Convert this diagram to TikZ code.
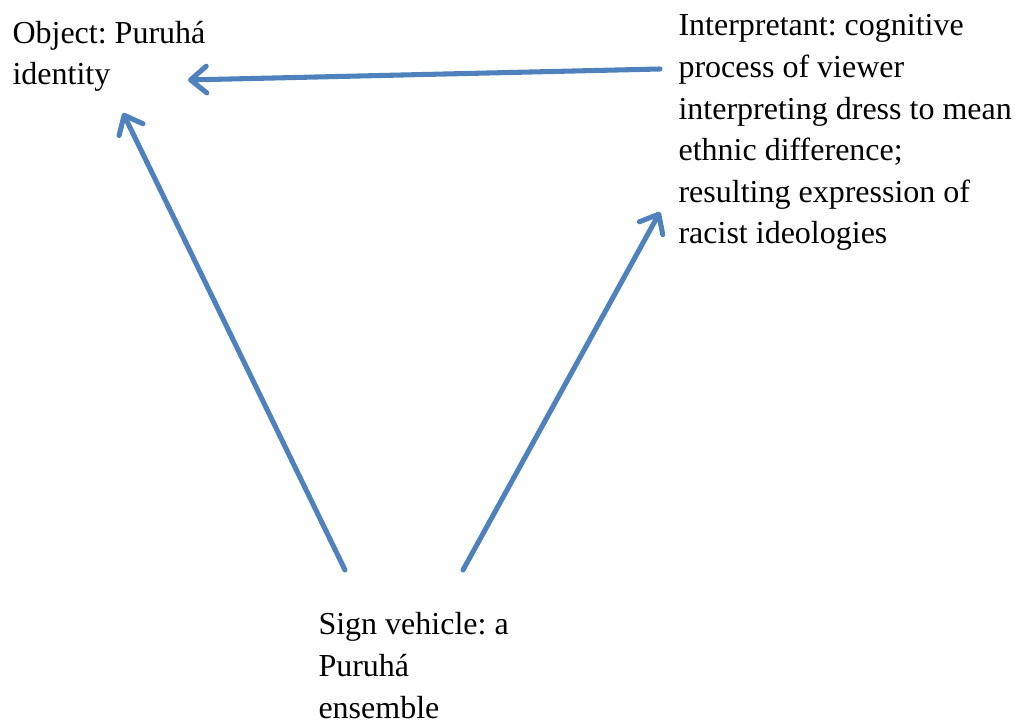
\documentclass[tikz,border=0pt]{standalone}
\usepackage{fontspec}
\setmainfont{Liberation Serif}
\usepackage{tikz}
\usetikzlibrary{arrows.meta}
\usetikzlibrary{calc}
\definecolor{signblue}{HTML}{4F81BD}
\frenchspacing

\begin{document}
\begin{tikzpicture}[x=0.375pt, y=-0.375pt,
    label/.style={anchor=base west, inner sep=0pt, align=left,
        font=\fontsize{12}{15.6}\selectfont},
    link/.style={signblue, line width=1.9pt, line cap=round,
        -{Straight Barb[length=6pt, width=10pt, round]}}]
\useasboundingbox (0,0) rectangle (1015,721);

% base anchor sits on the last line
\node[label] (object) at (12,85) {Object: Puruhá\\identity};
\node[label] (interp) at (678,244) {Interpretant: cognitive\\process of viewer\\interpreting dress to mean\\ethnic difference;\\resulting expression of\\racist ideologies};
\node[label] (sign) at (318,718) {Sign vehicle: a\\Puruhá\\ensemble};

% Arrows between the three corners
\draw[link] ($(interp.base west)+(-18,-175)$) -- ($(object.base west)+(176,-5)$);
\draw[link] ($(sign.base west)+(27,-148)$) -- ($(object.base west)+(111,28)$);
\draw[link] ($(sign.base west)+(145,-148)$) -- ($(interp.base west)+(-18,-32)$);
\end{tikzpicture}
\end{document}
